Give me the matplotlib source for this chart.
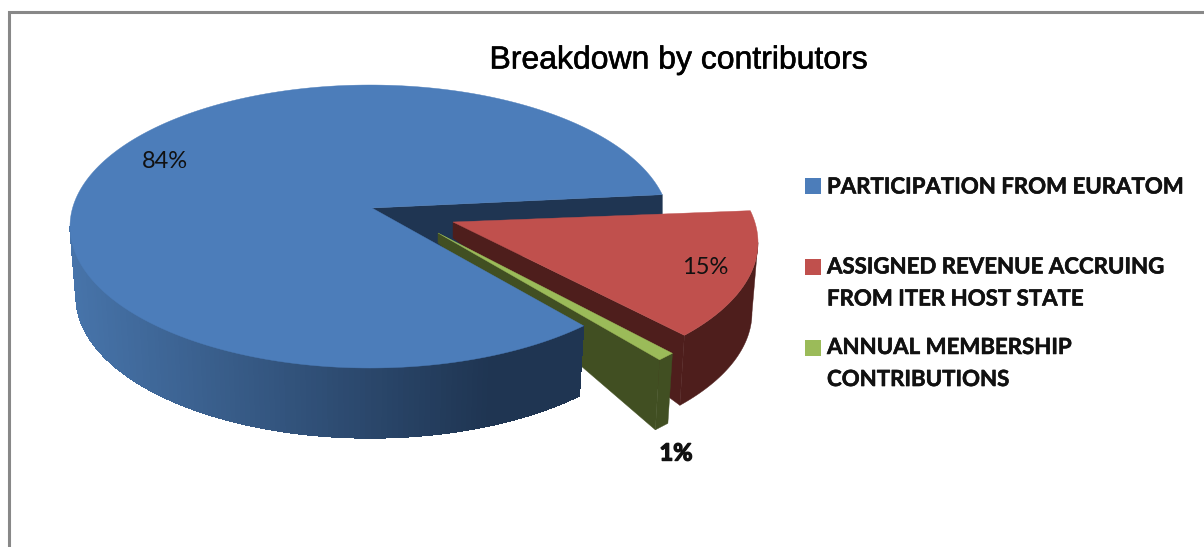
import numpy as np
import matplotlib
matplotlib.use("Agg")
import matplotlib.pyplot as plt
import matplotlib.patheffects as pe
from matplotlib.patches import Polygon, Rectangle

title = "Breakdown by contributors"
categories = [
    "PARTICIPATION FROM EURATOM",
    "ASSIGNED REVENUE ACCRUING\nFROM ITER HOST STATE",
    "ANNUAL MEMBERSHIP\nCONTRIBUTIONS",
]
values = [84, 15, 1]
colors = ["#4C7DBA", "#C0504D", "#9BBB59"]
dark_colors = ["#1F3552", "#4E1E1C", "#414F22"]

# ellipse geometry in pixels (y runs downwards)
cx, cy, rx, ry = 370, 226.5, 300, 141.5
bot_cy, bot_rx = 296.5, 294
start = 13.0

angles = np.array(values) / sum(values) * 360
blue_end = start + angles[0]
red_end = start - angles[1]
green_end = red_end - angles[2]


def top(t, dx=0, dy=0):
    t = np.radians(t)
    return np.column_stack([cx + rx * np.cos(t) + dx, cy - ry * np.sin(t) + dy])


def bottom(t, dx=0, dy=0):
    t = np.radians(t)
    return np.column_stack([cx + bot_rx * np.cos(t) + dx, bot_cy - ry * np.sin(t) + dy])


def poly(ax, pts, color, **kw):
    ax.add_patch(Polygon(pts, closed=True, facecolor=color, edgecolor=color, linewidth=0.3, **kw))


fig = plt.figure(figsize=(12.04, 5.47), dpi=100)
ax = fig.add_axes([0, 0, 1, 1])
ax.set_xlim(0, 1204)
ax.set_ylim(547, 0)
ax.axis("off")

# frame, only left and top are in the crop
ax.plot([8.5, 8.5, 1204], [547, 11.5, 11.5], color="#888888", lw=2.2, solid_joinstyle="miter")

blue_apex = np.array([372, 208])

# wall of the gap behind the exploded slices
wall_end = top([start])[0]
poly(ax, [blue_apex, wall_end, wall_end + [0, 68], blue_apex + [0, 40]], dark_colors[0])

# red slice
red_arc = np.linspace(start, red_end, 60)
red_dx, red_dy = 88, 16
red_apex = np.array([453, 222])
red_a = top(red_arc, red_dx, red_dy)
outer = np.linspace(0, red_end, 40)
poly(ax, np.vstack([top(outer, red_dx, red_dy), bottom(outer, red_dx, red_dy)[::-1]]), dark_colors[1])
poly(ax, [red_apex, red_a[-1], bottom([red_end], red_dx, red_dy)[0], red_apex + [0, 16]], dark_colors[1])
poly(ax, np.vstack([red_apex, red_a]), colors[1])

# green slice
green_dx, green_dy = 76, 34
green_apex = np.array([438, 233])
g1 = top([red_end], green_dx, green_dy)[0]
g2 = top([green_end], green_dx, green_dy)[0]
g1b = bottom([red_end], green_dx, green_dy)[0]
g2b = bottom([green_end], green_dx, green_dy)[0]
poly(ax, [green_apex, g2, g2b, green_apex + [0, 10]], dark_colors[2])
poly(ax, [g1, g2, g2b, g1b], dark_colors[2])
poly(ax, [green_apex, g1, g2], colors[2])

# blue outer wall with the gradient running left to right
steps = np.linspace(180, blue_end, 130)
left_col = np.array(matplotlib.colors.to_rgb("#4774AA"))
right_col = np.array(matplotlib.colors.to_rgb(dark_colors[0]))
for a, b in zip(steps[:-1], steps[1:]):
    seg = np.linspace(a, b, 3)
    xmid = top([(a + b) / 2])[0][0]
    f = np.clip((xmid - 70) / (490 - 70), 0, 1)
    col = left_col * (1 - f) + right_col * f
    poly(ax, np.vstack([top(seg), bottom(seg)[::-1]]), col, antialiased=False)

# blue top
blue_arc = np.linspace(start, blue_end, 240)
poly(ax, np.vstack([blue_apex, top(blue_arc)]), colors[0])

# percentage labels
label_pos = [(165, 161), (705, 267), (676, 453)]
for v, (x, y), w in zip(values, label_pos, ["normal", "normal", "bold"]):
    t = ax.text(x, y, f"{v}%", ha="center", va="center", family="Lato", fontsize=17, weight=w, color="#111111")
    if w == "bold":
        t.set_path_effects([pe.withStroke(linewidth=1.0, foreground="#111111")])

ax.text(679, 60.5, title, ha="center", va="center", family="Liberation Sans", fontsize=23, color="black",
        path_effects=[pe.withStroke(linewidth=0.4, foreground="black")])

# legend
box_y = [178, 259, 340]
text_y = [187, 283, 363.5]
for lab, col, by, ty in zip(categories, colors, box_y, text_y):
    ax.add_patch(Rectangle((805, by), 16, 16, facecolor=col, edgecolor="none"))
    ax.text(827, ty, lab, ha="left", va="center", family="Lato", fontsize=16, weight="bold",
            color="#111111", linespacing=1.65,
            path_effects=[pe.withStroke(linewidth=0.4, foreground="#111111")])

fig.savefig("out.png", dpi=100)
